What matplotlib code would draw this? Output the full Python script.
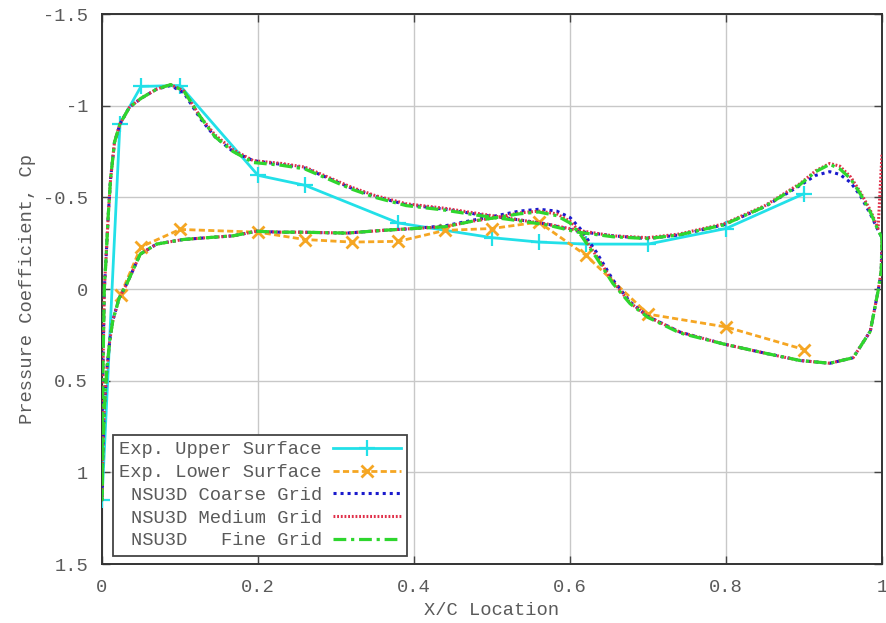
"""Pressure coefficient distribution: experiment vs NSU3D grids."""
import matplotlib
matplotlib.use("Agg")
import matplotlib.pyplot as plt

# Experimental data
exp_upper_x = [0.0, 0.023, 0.05, 0.10, 0.20, 0.26, 0.38, 0.50, 0.56, 0.62, 0.70, 0.80, 0.90]
exp_upper_cp = [1.15, -0.90, -1.105, -1.11, -0.62, -0.566, -0.36, -0.28, -0.256, -0.245,
                -0.245, -0.33, -0.52]
exp_lower_x = [0.024, 0.05, 0.10, 0.20, 0.26, 0.32, 0.38, 0.44, 0.50, 0.56, 0.62, 0.70,
               0.80, 0.90]
exp_lower_cp = [0.03, -0.23, -0.325, -0.31, -0.27, -0.256, -0.26, -0.32, -0.33, -0.365,
                -0.185, 0.137, 0.207, 0.33]

# NSU3D surface stations (shared x/c)
cfd_upper_x = [0.0, 0.001, 0.003, 0.005, 0.008, 0.011, 0.016, 0.023, 0.035, 0.05, 0.07,
               0.088, 0.105, 0.126, 0.145, 0.168, 0.194, 0.23, 0.26, 0.29, 0.32, 0.35,
               0.39, 0.44, 0.485, 0.53, 0.57, 0.61, 0.655, 0.70, 0.74, 0.797, 0.85,
               0.895, 0.915, 0.933, 0.946, 0.96, 0.972, 0.985, 0.995, 1.0]
cfd_lower_x = [0.0, 0.001, 0.003, 0.006, 0.010, 0.014, 0.022, 0.032, 0.049, 0.07, 0.104,
               0.135, 0.168, 0.198, 0.228, 0.254, 0.314, 0.36, 0.40, 0.44, 0.475, 0.506,
               0.535, 0.56, 0.583, 0.60, 0.613, 0.634, 0.655, 0.677, 0.70, 0.741, 0.797,
               0.85, 0.895, 0.933, 0.963, 0.985, 0.995, 0.999, 1.0]

fine_upper_cp = [1.15, 0.5, 0.0, -0.15, -0.4, -0.6, -0.8, -0.9, -0.99, -1.04, -1.09,
                 -1.115, -1.08, -0.94, -0.83, -0.75, -0.69, -0.675, -0.655, -0.6, -0.545,
                 -0.5, -0.455, -0.43, -0.40, -0.375, -0.35, -0.31, -0.285, -0.275, -0.295,
                 -0.35, -0.45, -0.57, -0.64, -0.68, -0.655, -0.6, -0.52, -0.42, -0.32, -0.28]
fine_lower_cp = [1.15, 0.9, 0.65, 0.45, 0.28, 0.17, 0.05, -0.03, -0.19, -0.245, -0.27,
                 -0.28, -0.29, -0.315, -0.31, -0.31, -0.305, -0.32, -0.33, -0.34, -0.37,
                 -0.39, -0.41, -0.42, -0.40, -0.36, -0.30, -0.17, -0.03, 0.08, 0.155,
                 0.24, 0.30, 0.35, 0.39, 0.405, 0.375, 0.23, 0.01, -0.1, -0.28]

medium_upper_cp = [1.15, 0.5, 0.0, -0.15, -0.4, -0.6, -0.8, -0.9, -0.99, -1.04, -1.09,
                   -1.115, -1.08, -0.94, -0.84, -0.76, -0.70, -0.685, -0.665, -0.61, -0.555,
                   -0.51, -0.465, -0.44, -0.41, -0.38, -0.355, -0.32, -0.29, -0.28, -0.30,
                   -0.355, -0.455, -0.575, -0.645, -0.685, -0.67, -0.61, -0.53, -0.43,
                   -0.33, -0.74]
medium_lower_cp = [1.15, 0.9, 0.65, 0.45, 0.28, 0.17, 0.05, -0.03, -0.19, -0.245, -0.27,
                   -0.28, -0.29, -0.315, -0.31, -0.31, -0.305, -0.32, -0.33, -0.34, -0.37,
                   -0.39, -0.415, -0.425, -0.41, -0.37, -0.31, -0.18, -0.04, 0.075, 0.15,
                   0.235, 0.30, 0.35, 0.39, 0.405, 0.375, 0.23, 0.01, -0.1, -0.28]

coarse_upper_cp = [1.15, 0.5, 0.0, -0.15, -0.4, -0.6, -0.8, -0.9, -0.99, -1.04, -1.09,
                   -1.11, -1.07, -0.93, -0.83, -0.75, -0.70, -0.68, -0.66, -0.605, -0.55,
                   -0.505, -0.46, -0.435, -0.405, -0.38, -0.355, -0.315, -0.29, -0.275,
                   -0.295, -0.35, -0.45, -0.565, -0.62, -0.64, -0.625, -0.58, -0.51,
                   -0.41, -0.32, -0.28]
coarse_lower_cp = [1.15, 0.9, 0.65, 0.45, 0.28, 0.17, 0.05, -0.03, -0.19, -0.245, -0.27,
                   -0.28, -0.29, -0.315, -0.31, -0.31, -0.305, -0.32, -0.33, -0.345, -0.375,
                   -0.40, -0.425, -0.435, -0.425, -0.39, -0.33, -0.2, -0.05, 0.07, 0.15,
                   0.235, 0.30, 0.35, 0.39, 0.405, 0.375, 0.23, 0.01, -0.1, -0.28]

x_ticks = [0, 0.2, 0.4, 0.6, 0.8, 1.0]
x_tick_labels = ["0", "0.2", "0.4", "0.6", "0.8", "1"]
y_ticks = [-1.5, -1, -0.5, 0, 0.5, 1, 1.5]
y_tick_labels = ["-1.5", "-1", "-0.5", "0", "0.5", "1", "1.5"]

TEXT = "#5a5a5a"
plt.rcParams["font.family"] = ["Liberation Mono", "DejaVu Sans Mono"]
plt.rcParams["font.size"] = 13.5


def loop(lower_cp, upper_cp):
    xs = cfd_lower_x[::-1] + cfd_upper_x
    ys = lower_cp[::-1] + upper_cp
    return xs, ys


fig = plt.figure(figsize=(8.86, 6.23), dpi=100)
ax = fig.add_axes([0.1151, 0.0947, 0.8804, 0.8828])

ax.plot(exp_upper_x, exp_upper_cp, color="#22e0e8", lw=2.0, marker="+", ms=11, mew=1.6,
        label="Exp. Upper Surface", zorder=3)
ax.plot(exp_lower_x, exp_lower_cp, color="#f5a623", lw=2.0, ls=(0, (2.2, 1.2)),
        marker="x", ms=9, mew=2.0, label="Exp. Lower Surface", zorder=3)

xs, ys = loop(coarse_lower_cp, coarse_upper_cp)
ax.plot(xs, ys, color="#1a1acc", lw=2.2, ls=(0, (1, 1.3)), label="NSU3D Coarse Grid", zorder=4)
xs, ys = loop(medium_lower_cp, medium_upper_cp)
ax.plot(xs, ys, color="#e0304a", lw=2.2, ls=(0, (0.6, 0.6)), label="NSU3D Medium Grid", zorder=4)
xs, ys = loop(fine_lower_cp, fine_upper_cp)
ax.plot(xs, ys, color="#2ed62e", lw=2.3, ls=(0, (4, 1.5, 1, 1.5)), label="NSU3D   Fine Grid",
        zorder=5)

ax.set_xlim(0, 1)
ax.set_ylim(1.5, -1.5)
ax.set_xticks(x_ticks)
ax.set_xticklabels(x_tick_labels)
ax.set_yticks(y_ticks)
ax.set_yticklabels(y_tick_labels)
ax.grid(True, color="#c8c8c8", lw=1.0)
ax.set_axisbelow(True)
ax.tick_params(direction="in", length=6, width=1, color="#444444", labelcolor=TEXT,
               top=True, right=True)
ax.tick_params(axis="x", pad=11)
ax.tick_params(axis="y", pad=10)
for s in ax.spines.values():
    s.set_color("#333333")
    s.set_linewidth(1.4)

ax.set_xlabel("X/C Location", color=TEXT, labelpad=4)
ax.set_ylabel("Pressure Coefficient, Cp", color=TEXT, labelpad=5)

leg = ax.legend(loc="lower left", bbox_to_anchor=(0.014, 0.0145), borderaxespad=0,
                markerfirst=False, fancybox=False, framealpha=1, edgecolor="#444444",
                handlelength=3.6, labelspacing=0.3, borderpad=0.35, handletextpad=0.6,
                fontsize=13.5)
leg.get_frame().set_linewidth(1.3)
for t in leg.get_texts():
    t.set_color(TEXT)

fig.savefig("out.png", dpi=100)
